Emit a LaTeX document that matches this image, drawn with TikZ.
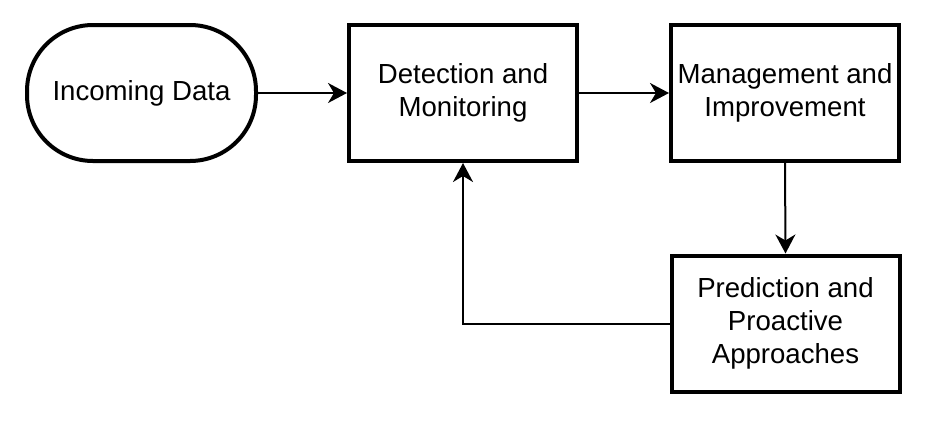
\documentclass[tikz,border=0pt]{standalone}
\usepackage{fontspec}
\setmainfont{Liberation Sans}
\usetikzlibrary{arrows.meta,shapes.misc}
\begin{document}
\begin{tikzpicture}[x=1pt,y=-1pt,
  box/.style={draw, line width=4pt, minimum width=228pt, minimum height=136pt, align=center, inner sep=0pt,
    font=\fontsize{27.6}{33}\selectfont},
  term/.style={box, rounded corners=66pt, minimum width=229pt},
  conn/.style={line width=2pt, -{Stealth[length=19pt,width=20pt,inset=6pt]}}]
\useasboundingbox (0,0) rectangle (931,424);
\node[term] (in) at (141.5,93) {Incoming Data};
\node[box] (det) at (463,93) {Detection and\\Monitoring};
\node[box] (mgmt) at (785,93) {Management and\\Improvement};
\node[box] (pred) at (785.5,323.5) {Prediction and\\Proactive\\Approaches};
\draw[conn] (in.east) -- (det.west);
\draw[conn] (det.east) -- (mgmt.west);
\draw[conn] (mgmt.south) -- (pred.north);
\draw[conn] (pred.west) -| (det.south);
\end{tikzpicture}
\end{document}
